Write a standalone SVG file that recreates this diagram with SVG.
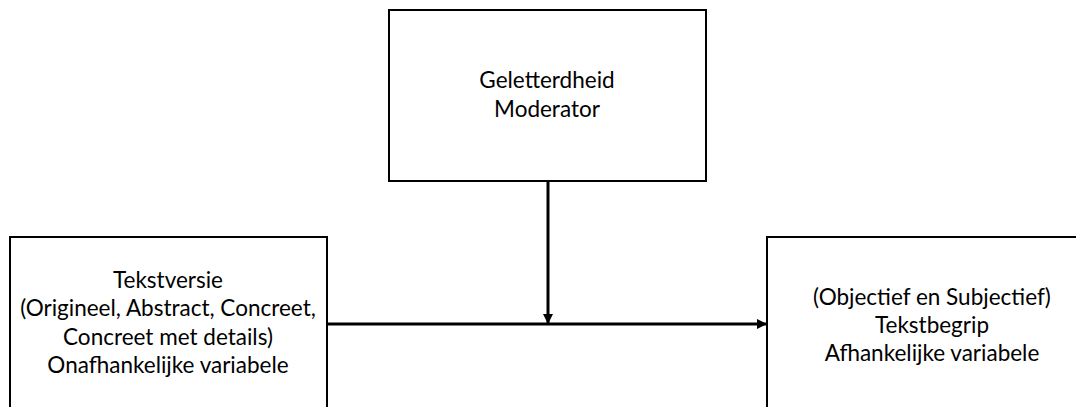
<svg xmlns="http://www.w3.org/2000/svg" width="1076" height="407" viewBox="0 0 1076 407">
  <style>
    .box { fill: #ffffff; stroke: #000000; stroke-width: 2; }
    .label { font-family: Lato, "Liberation Sans", Arial, sans-serif; font-size: 22.5px; fill: #000000; text-anchor: middle; }
    .link { stroke: #000000; stroke-width: 3; fill: none; }
  </style>
  <defs>
    <marker id="arrow" viewBox="0 0 10 10" refX="9" refY="5" markerWidth="3.5" markerHeight="3.5" orient="auto" markerUnits="strokeWidth">
      <path d="M0,0 L10,5 L0,10 z" fill="#000000"/>
    </marker>
  </defs>
  <rect width="1076" height="407" fill="#ffffff"/>

  <g id="node-moderator">
    <rect class="box" x="389" y="10" width="317" height="171"/>
    <text class="label" x="547" y="88">Geletterdheid</text>
    <text class="label" x="547" y="117">Moderator</text>
  </g>

  <g id="node-tekstversie">
    <rect class="box" x="10" y="237" width="317" height="185"/>
    <text class="label" x="168" y="288">Tekstversie</text>
    <text class="label" x="168" y="316">(Origineel, Abstract, Concreet,</text>
    <text class="label" x="168" y="345">Concreet met details)</text>
    <text class="label" x="168" y="373">Onafhankelijke variabele</text>
  </g>

  <g id="node-tekstbegrip">
    <rect class="box" x="767" y="237" width="330" height="185"/>
    <text class="label" x="932" y="305">(Objectief en Subjectief)</text>
    <text class="label" x="932" y="333">Tekstbegrip</text>
    <text class="label" x="932" y="361">Afhankelijke variabele</text>
  </g>

  <g id="connectors">
    <line class="link" x1="327" y1="324" x2="766" y2="324" marker-end="url(#arrow)"/>
    <line class="link" x1="548" y1="181" x2="548" y2="323" marker-end="url(#arrow)"/>
  </g>
</svg>
